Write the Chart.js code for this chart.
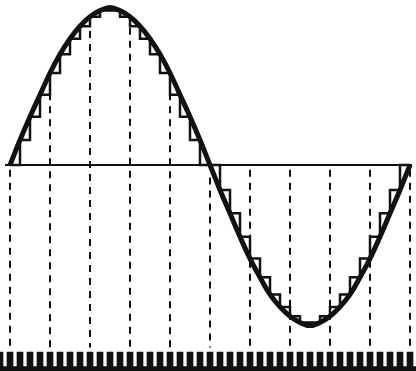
<!DOCTYPE html>
<html>
<head>
<meta charset="utf-8">
<script src="https://cdn.jsdelivr.net/npm/chart.js@4/dist/chart.umd.min.js"></script>
<style>
  html, body { margin: 0; padding: 0; background: #fff; }
  #wrap { width: 416px; height: 371px; }
</style>
</head>
<body>
<div id="wrap"><canvas id="sineChart"></canvas></div>
<script>
// sample index along the time axis (one unit = one sample period)
const sampleX = [0, 1, 2, 3, 4, 5, 6, 7, 8, 9, 10, 11, 12, 13, 14, 15, 16, 17, 18, 19, 20,
  21, 22, 23, 24, 25, 26, 27, 28, 29, 30, 31, 32, 33, 34, 35, 36, 37, 38, 39, 40];

// analog signal (peak = 1)
const signal = [0, 0.16, 0.31, 0.45, 0.59, 0.71, 0.81, 0.89, 0.95, 0.99, 1.01,
  0.99, 0.95, 0.89, 0.81, 0.71, 0.59, 0.45, 0.31, 0.16, 0,
  -0.16, -0.31, -0.46, -0.6, -0.72, -0.83, -0.91, -0.97, -1.01, -1.03,
  -1.01, -0.97, -0.91, -0.83, -0.72, -0.6, -0.46, -0.31, -0.16, 0];

// sampled / held staircase levels (each one held until the next sample)
const held = [0, 0.16, 0.31, 0.45, 0.59, 0.71, 0.81, 0.89, 0.95, 0.99,
  0.99, 0.95, 0.89, 0.81, 0.71, 0.59, 0.45, 0.31, 0.16, 0,
  0, -0.16, -0.31, -0.46, -0.6, -0.72, -0.83, -0.91, -0.97, -1.01,
  -1.01, -0.97, -0.91, -0.83, -0.72, -0.6, -0.46, -0.31, -0.16, 0, 0];

// dashed marker lines: position, top and bottom
const dashX = [0, 4, 8, 12, 16, 20, 24, 28, 32, 36, 40];
const dashTop = [-0.03, 0.46, 0.86, 0.88, 0.46, -0.08, -0.03, -0.03, -0.03, -0.03, -0.03];
const dashBottom = -1.17;

// clock pulse train at the bottom
const pulseX = [-1, 0, 1, 2, 3, 4, 5, 6, 7, 8, 9, 10, 11, 12, 13, 14, 15, 16, 17, 18, 19, 20,
  21, 22, 23, 24, 25, 26, 27, 28, 29, 30, 31, 32, 33, 34, 35, 36, 37, 38, 39, 40, 41];
const pulseHigh = -1.2;
const pulseLow = -1.33;

// zero axis extent
const axisX = [-0.5, 40.2];

const ink = '#111';
const ctx = document.getElementById('sineChart').getContext('2d');

const datasets = [];

datasets.push({
  type: 'line',
  label: 'signal',
  data: sampleX.map((x, i) => ({ x: x, y: signal[i] })),
  borderColor: ink,
  borderWidth: 5,
  pointRadius: 0,
  tension: 0.4,
  fill: false,
  order: 1
});

// 'before' = horizontal first, so each level holds until the next sample
datasets.push({
  type: 'line',
  label: 'held',
  data: sampleX.map((x, i) => ({ x: x, y: held[i] })),
  borderColor: ink,
  borderWidth: 2.5,
  pointRadius: 0,
  stepped: 'before',
  fill: false,
  order: 2
});

datasets.push({
  type: 'line',
  label: 'axis',
  data: axisX.map(x => ({ x: x, y: 0 })),
  borderColor: ink,
  borderWidth: 2,
  pointRadius: 0,
  order: 3
});

dashX.forEach((x, i) => {
  datasets.push({
    type: 'line',
    label: 'dash' + i,
    data: [{ x: x, y: dashTop[i] }, { x: x, y: dashBottom }],
    borderColor: ink,
    borderWidth: 2,
    borderDash: [7, 6],
    pointRadius: 0,
    order: 4
  });
});

datasets.push({
  type: 'bar',
  label: 'clock',
  data: pulseX.map(x => ({ x: x, y: [pulseLow, pulseHigh] })),
  backgroundColor: ink,
  borderWidth: 0,
  barThickness: 6,
  borderRadius: 2,
  borderSkipped: 'bottom',
  order: 5
});

datasets.push({
  type: 'line',
  label: 'clockBase',
  data: [{ x: -1, y: -1.31 }, { x: 41, y: -1.31 }],
  borderColor: ink,
  borderWidth: 6,
  pointRadius: 0,
  order: 6
});

new Chart(ctx, {
  data: { datasets: datasets },
  options: {
    responsive: true,
    maintainAspectRatio: false,
    animation: false,
    layout: { padding: 0 },
    scales: {
      x: { type: 'linear', min: -1, max: 40.6, offset: false, display: false },
      y: { type: 'linear', min: -1.321, max: 1.058, display: false }
    },
    plugins: {
      legend: { display: false },
      tooltip: { enabled: false }
    }
  }
});
</script>
</body>
</html>
